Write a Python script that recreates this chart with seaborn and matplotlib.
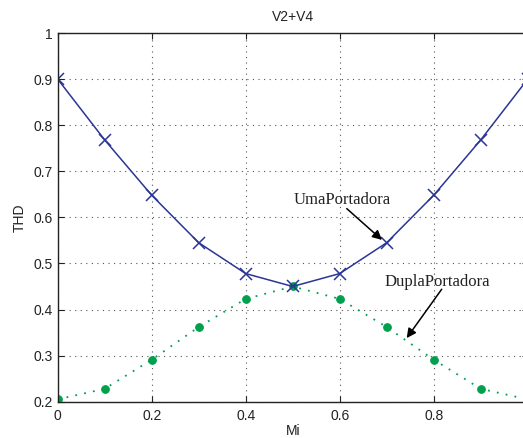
import numpy as np
import pandas as pd
import matplotlib
matplotlib.use("Agg")
import matplotlib.pyplot as plt
import seaborn as sns

mi = [0.0, 0.1, 0.2, 0.3, 0.4, 0.5, 0.6, 0.7, 0.8, 0.9, 1.0]
uma_portadora = [0.900, 0.768, 0.648, 0.545, 0.478, 0.450, 0.478, 0.545, 0.648, 0.768, 0.900]
dupla_portadora = [0.205, 0.228, 0.291, 0.362, 0.423, 0.450, 0.423, 0.362, 0.291, 0.228, 0.205]
x_ticks = [0, 0.2, 0.4, 0.6, 0.8, 1]
y_ticks = [0.2, 0.3, 0.4, 0.5, 0.6, 0.7, 0.8, 0.9, 1]

df = pd.DataFrame({"Mi": mi, "Uma": uma_portadora, "Dupla": dupla_portadora})

sns.set_style("white")
plt.rcParams["font.family"] = ["Liberation Sans", "DejaVu Sans"]

fig = plt.figure(figsize=(5.23, 4.38), dpi=100)
ax = fig.add_axes([0.1103, 0.0829, 0.8987, 0.8417])

blue = "#2a3594"
green = "#00a04e"

sns.lineplot(data=df, x="Mi", y="Dupla", ax=ax, color=green, linestyle=(0, (1, 4)),
             linewidth=1.3, marker="o", markersize=5.5, markeredgecolor=green)
sns.lineplot(data=df, x="Mi", y="Uma", ax=ax, color=blue, linewidth=1.1,
             marker="x", markersize=8, markeredgewidth=1.1, markeredgecolor=blue)

ax.set_xlim(0, 1)
ax.set_ylim(0.2, 1)
ax.set_xticks(x_ticks)
ax.set_xticklabels([f"{v:g}" for v in x_ticks])
ax.set_yticks(y_ticks)
ax.set_yticklabels([f"{v:g}" for v in y_ticks])
ax.tick_params(axis="both", direction="in", length=4, width=0.8, labelsize=10,
               colors="#222222", bottom=True, top=True, left=True, right=True)
ax.tick_params(axis="x", pad=5)
ax.tick_params(axis="y", pad=3.5)
ax.grid(True, color="#555555", linestyle=(0, (1, 4)), linewidth=0.8)
for s in ax.spines.values():
    s.set_color("#222222")
    s.set_linewidth(1.0)

ax.set_title("V2+V4", fontsize=10, color="#222222", pad=9)
ax.set_xlabel("Mi", fontsize=10, color="#222222", labelpad=1)
ax.set_ylabel("THD", fontsize=10, color="#222222", labelpad=5)

arrow = dict(arrowstyle="-|>", color="black", lw=1.1, mutation_scale=14, shrinkA=0, shrinkB=0)
serif = ["Liberation Serif", "DejaVu Serif"]

ax.text(0.605, 0.628, "UmaPortadora", fontsize=12, family=serif,
        ha="center", va="baseline", color="#222222")
ax.annotate("", xy=(0.690, 0.551), xytext=(0.615, 0.619), arrowprops=arrow)

ax.text(0.807, 0.4515, "DuplaPortadora", fontsize=12, family=serif,
        ha="center", va="baseline", color="#222222")
ax.annotate("", xy=(0.7425, 0.338), xytext=(0.817, 0.444), arrowprops=arrow)

fig.savefig("out.png", dpi=100)
